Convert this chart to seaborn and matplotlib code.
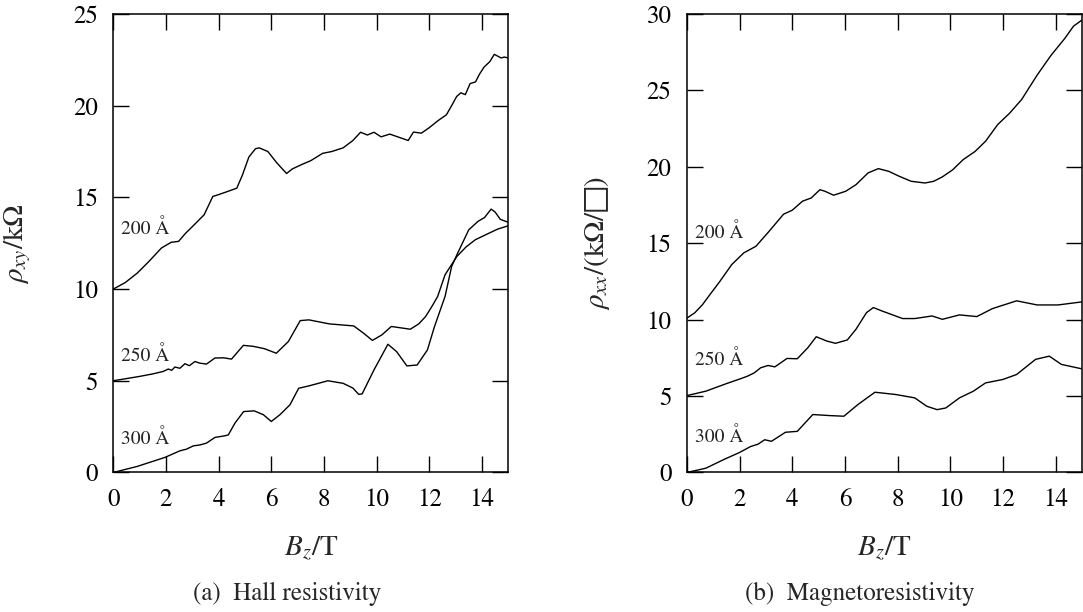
import matplotlib
matplotlib.use("Agg")
import matplotlib.pyplot as plt
import seaborn as sns
import pandas as pd

# ---- Hall resistivity rho_xy (kOhm) vs B_z (T) ----
hall_200_B = [0.0, 0.45, 0.91, 1.35, 1.83, 2.2, 2.48, 2.75, 3.0, 3.45, 3.78, 4.0, 4.3, 4.69, 4.9,
              5.15, 5.4, 5.54, 5.87, 6.2, 6.58, 6.8, 7.17, 7.5, 7.95, 8.3, 8.73, 9.1, 9.39, 9.65,
              9.9, 10.17, 10.5, 10.8, 11.2, 11.4, 11.7, 12.0, 12.35, 12.65, 12.85, 13.04, 13.2,
              13.37, 13.55, 13.76, 13.9, 14.08, 14.3, 14.47, 14.6, 14.73, 14.85, 15.0]
hall_200_R = [10.0, 10.35, 10.87, 11.5, 12.24, 12.55, 12.6, 13.05, 13.4, 14.05, 15.05, 15.15, 15.3,
              15.5, 16.2, 17.2, 17.65, 17.7, 17.5, 16.9, 16.3, 16.55, 16.8, 17.0, 17.4, 17.5, 17.7,
              18.1, 18.55, 18.4, 18.55, 18.3, 18.45, 18.3, 18.1, 18.56, 18.5, 18.8, 19.2, 19.5,
              20.0, 20.5, 20.7, 20.6, 21.2, 21.3, 21.7, 22.1, 22.4, 22.8, 22.7, 22.6, 22.65, 22.6]

hall_250_B = [0.0, 1.01, 1.52, 1.9, 2.09, 2.22, 2.34, 2.53, 2.72, 2.89, 3.1, 3.29, 3.54, 3.86, 4.2,
              4.49, 4.94, 5.3, 5.74, 6.19, 6.65, 7.1, 7.43, 8.21, 9.13, 9.5, 9.84, 10.2, 10.56,
              11.28, 11.6, 11.86, 12.1, 12.32, 12.6, 13.05, 13.4, 13.75, 14.2, 14.6, 15.0]
hall_250_R = [5.0, 5.24, 5.38, 5.51, 5.64, 5.57, 5.75, 5.68, 5.93, 5.82, 6.05, 5.96, 5.91, 6.24, 6.25,
              6.18, 6.93, 6.88, 6.75, 6.5, 7.14, 8.28, 8.32, 8.1, 7.99, 7.6, 7.2, 7.5, 7.96,
              7.81, 8.1, 8.5, 9.05, 9.6, 10.78, 11.78, 12.3, 12.69, 13.0, 13.27, 13.45]

hall_300_B = [0.0, 0.91, 1.96, 2.53, 2.78, 3.04, 3.29, 3.54, 3.86, 4.24, 4.37, 4.62, 4.95, 5.35, 5.7,
              6.0, 6.33, 6.71, 7.04, 7.43, 8.15, 8.73, 9.1, 9.32, 9.45, 9.9, 10.43, 10.76, 11.15,
              11.54, 11.93, 12.2, 12.6, 12.85, 13.05, 13.5, 13.85, 14.1, 14.35, 14.5, 14.7, 15.0]
hall_300_R = [0.0, 0.33, 0.82, 1.18, 1.27, 1.45, 1.5, 1.6, 1.91, 2.0, 2.05, 2.69, 3.32, 3.36, 3.15,
              2.78, 3.15, 3.69, 4.59, 4.72, 5.0, 4.86, 4.6, 4.26, 4.28, 5.59, 6.99, 6.59, 5.81,
              5.86, 6.68, 7.96, 9.6, 11.23, 11.87, 13.23, 13.69, 13.9, 14.36, 14.2, 13.8, 13.64]

# ---- Magnetoresistivity rho_xx (kOhm/sq) vs B_z (T) ----
mr_200_B = [0.0, 0.3, 0.59, 0.9, 1.25, 1.7, 2.16, 2.62, 3.08, 3.67, 4.0, 4.39, 4.72, 5.05, 5.24,
            5.57, 6.03, 6.42, 6.88, 7.27, 7.67, 8.06, 8.52, 9.04, 9.37, 9.7, 10.09, 10.49, 10.94,
            11.34, 11.8, 12.25, 12.71, 13.3, 13.83, 14.35, 14.68, 15.0]
mr_200_R = [10.1, 10.45, 10.98, 11.7, 12.5, 13.6, 14.37, 14.8, 15.7, 16.9, 17.16, 17.75, 17.96, 18.5,
            18.4, 18.14, 18.4, 18.83, 19.6, 19.88, 19.7, 19.38, 19.05, 18.94, 19.05, 19.34, 19.8,
            20.47, 21.0, 21.67, 22.76, 23.5, 24.4, 26.0, 27.3, 28.4, 29.2, 29.6]

mr_250_B = [0.0, 0.72, 1.51, 2.03, 2.3, 2.56, 2.8, 3.08, 3.34, 3.8, 4.19, 4.59, 4.91, 5.31, 5.64,
            6.09, 6.42, 6.82, 7.08, 7.4, 8.19, 8.65, 9.31, 9.7, 10.35, 11.01, 11.6, 12.52, 13.3,
            14.09, 15.0]
mr_250_R = [5.03, 5.32, 5.82, 6.13, 6.3, 6.52, 6.85, 7.0, 6.91, 7.46, 7.44, 8.16, 8.88, 8.6, 8.45,
            8.67, 9.37, 10.46, 10.79, 10.57, 10.07, 10.07, 10.24, 10.02, 10.31, 10.2, 10.72,
            11.23, 10.96, 10.96, 11.16]

mr_300_B = [0.0, 0.72, 1.38, 2.0, 2.42, 2.7, 2.95, 3.21, 3.74, 4.19, 4.78, 5.44, 5.96, 6.49, 7.14,
            7.93, 8.65, 9.11, 9.5, 9.83, 10.35, 10.88, 11.34, 11.99, 12.52, 13.24, 13.76, 14.22,
            15.0]
mr_300_R = [0.0, 0.28, 0.83, 1.31, 1.7, 1.85, 2.14, 2.04, 2.63, 2.69, 3.79, 3.72, 3.68, 4.44, 5.25,
            5.1, 4.88, 4.33, 4.11, 4.22, 4.88, 5.32, 5.86, 6.08, 6.41, 7.4, 7.61, 7.07, 6.78]

thickness_labels = ["200 Å", "250 Å", "300 Å"]
hall_label_y = [12.99, 6.08, 1.55]
mr_label_y = [15.37, 7.04, 1.98]

x_ticks = [0, 2, 4, 6, 8, 10, 12, 14]
hall_yticks = [0, 5, 10, 15, 20, 25]
mr_yticks = [0, 5, 10, 15, 20, 25, 30]

sns.set_theme(style="ticks")
plt.rcParams["font.family"] = ["STIXGeneral", "DejaVu Serif"]
plt.rcParams["mathtext.fontset"] = "stix"
plt.rcParams["axes.linewidth"] = 1.1
plt.rcParams["axes.edgecolor"] = "black"

fig = plt.figure(figsize=(10.83, 6.12), dpi=100)
ax_a = fig.add_axes([0.1046, 0.228, 0.3647, 0.7492])
ax_b = fig.add_axes([0.6343, 0.228, 0.3647, 0.7492])

hall = [(hall_200_B, hall_200_R), (hall_250_B, hall_250_R), (hall_300_B, hall_300_R)]
mr = [(mr_200_B, mr_200_R), (mr_250_B, mr_250_R), (mr_300_B, mr_300_R)]

for ax, curves, ylabs in [(ax_a, hall, hall_label_y), (ax_b, mr, mr_label_y)]:
    for (b, r), name, ly in zip(curves, thickness_labels, ylabs):
        df = pd.DataFrame({"B": b, "R": r})
        sns.lineplot(data=df, x="B", y="R", ax=ax, color="black", linewidth=1.0,
                     estimator=None, sort=False)
        ax.text(0.3, ly, name, fontsize=14, ha="left", va="baseline", color="#222222")

for ax, yt, ylim in [(ax_a, hall_yticks, 25), (ax_b, mr_yticks, 30)]:
    ax.set_xlim(0, 15)
    ax.set_ylim(0, ylim)
    ax.set_xticks(x_ticks)
    ax.set_yticks(yt)
    ax.tick_params(direction="in", length=11.5, width=1.0, top=True, right=True,
                   labelsize=18, colors="black")
    ax.tick_params(axis="x", pad=11)
    ax.tick_params(axis="y", pad=11)
    for s in ax.spines.values():
        s.set_visible(True)
        s.set_color("black")
    ax.set_xlabel(r"$B_z/\mathrm{T}$", fontsize=21)
    ax.xaxis.set_label_coords(0.5, -0.135)

ax_a.set_ylabel(r"$\rho_{xy}/\mathrm{k}\Omega$", fontsize=21)
ax_a.yaxis.set_label_coords(-0.2025, 0.5)
ax_b.set_ylabel(r"$\rho_{xx}/(\mathrm{k}\Omega/\mathrm{□})$", fontsize=21)
ax_b.yaxis.set_label_coords(-0.19, 0.5)

fig.text(0.265, 0.0196, "(a)  Hall resistivity", ha="center", va="baseline", fontsize=18)
fig.text(0.794, 0.0196, "(b)  Magnetoresistivity", ha="center", va="baseline", fontsize=18)

fig.savefig("out.png", dpi=100)
